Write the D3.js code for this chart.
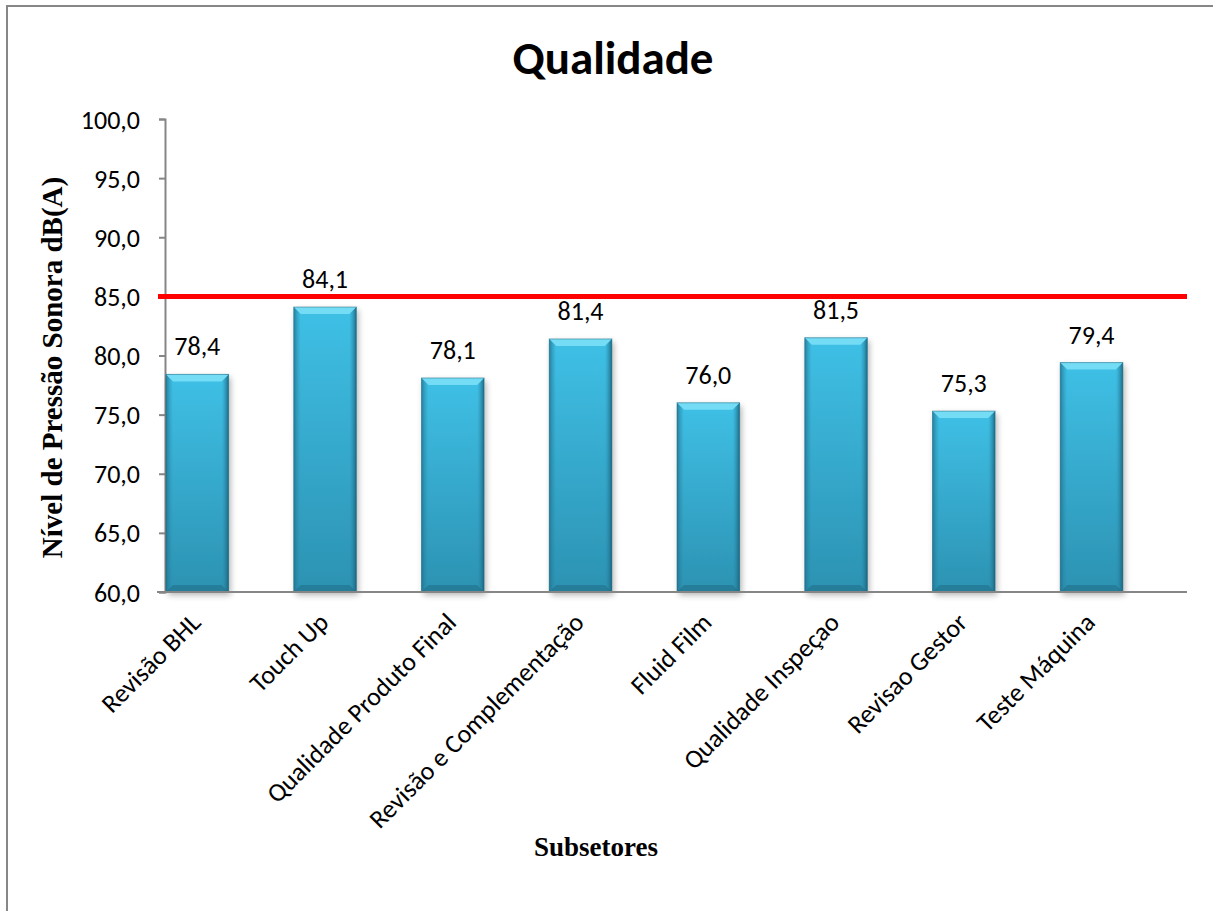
<!DOCTYPE html>
<html><head><meta charset="utf-8">
<script src="https://cdn.jsdelivr.net/npm/d3@7"></script>
<style>html,body{margin:0;padding:0;background:#fff;overflow:hidden}</style>
</head><body>
<svg id="chart" width="1213" height="911"></svg>
<script>
const categories = ["Revisão BHL","Touch Up","Qualidade Produto Final","Revisão e Complementação","Fluid Film","Qualidade Inspeçao","Revisao Gestor","Teste Máquina"];
const values = [78.4, 84.1, 78.1, 81.4, 76.0, 81.5, 75.3, 79.4];
const limitValue = [85];
const yTicks = [60,65,70,75,80,85,90,95,100];
const title = "Qualidade";
const yTitle = "Nível de Pressão Sonora dB(A)";
const xTitle = "Subsetores";

const svg = d3.select("#chart");
const W = 1213, H = 911;
const m = {left:165, right:1187, top:119, bottom:592};
const sans = "Carlito, Lato, 'Open Sans', sans-serif";
const serif = "'Liberation Serif', 'Times New Roman', serif";
const fmt = v => d3.format(".1f")(v).replace(".", ",");

svg.append("rect").attr("x",7).attr("y",6).attr("width",W+20).attr("height",H+20)
  .attr("fill","#fff").attr("stroke","#878787").attr("stroke-width",2);

const defs = svg.append("defs");
const g1 = defs.append("linearGradient").attr("id","barFill").attr("x1",0).attr("y1",0).attr("x2",0).attr("y2",1);
g1.append("stop").attr("offset","0%").attr("stop-color","#3fc0e6");
g1.append("stop").attr("offset","100%").attr("stop-color","#2c92b2");
const g2 = defs.append("linearGradient").attr("id","sideL").attr("x1",0).attr("y1",0).attr("x2",1).attr("y2",0);
g2.append("stop").attr("offset","0%").attr("stop-color","#1f6f8a").attr("stop-opacity",0.8);
g2.append("stop").attr("offset","100%").attr("stop-color","#2a8fb0").attr("stop-opacity",0);
const g3 = defs.append("linearGradient").attr("id","sideR").attr("x1",1).attr("y1",0).attr("x2",0).attr("y2",0);
g3.append("stop").attr("offset","0%").attr("stop-color","#1a5f78").attr("stop-opacity",0.9);
g3.append("stop").attr("offset","100%").attr("stop-color","#2a8fb0").attr("stop-opacity",0);
const f = defs.append("filter").attr("id","shadow").attr("x","-20%").attr("y","-5%").attr("width","140%").attr("height","115%");
f.append("feGaussianBlur").attr("in","SourceAlpha").attr("stdDeviation",3);
f.append("feOffset").attr("dx",2).attr("dy",3).attr("result","b");
f.append("feComponentTransfer").append("feFuncA").attr("type","linear").attr("slope",0.3);
const fm = f.append("feMerge"); fm.append("feMergeNode"); fm.append("feMergeNode").attr("in","SourceGraphic");

const x = d3.scaleBand().domain(categories).range([m.left, m.right]);
const y = d3.scaleLinear().domain([60,100]).range([m.bottom, m.top]);
const barW = x.bandwidth()*0.49;
const off = 1;

// Title
svg.append("text").attr("x",613).attr("y",74).attr("text-anchor","middle")
  .attr("font-family",sans).attr("font-weight","bold").attr("font-size",47).attr("fill","#000").text(title);

// y axis
const yAxis = svg.append("g").attr("transform",`translate(${m.left},0)`)
  .call(d3.axisLeft(y).tickValues(yTicks).tickSize(6).tickFormat(fmt));
yAxis.select(".domain").attr("stroke","#868686").attr("stroke-width",2);
yAxis.selectAll(".tick line").attr("stroke","#868686").attr("stroke-width",2);
yAxis.selectAll(".tick text").attr("font-family",sans).attr("font-size",26).attr("fill","#000").attr("x",-25).attr("dy","0.35em");

// bars
const bars = svg.append("g").selectAll("g").data(values).join("g")
  .attr("transform",(d,i)=>`translate(${x(categories[i])+off},0)`);
bars.each(function(d){
  const gg = d3.select(this);
  const top = y(d), bot = y(60), h = bot-top, bev = 7;
  gg.append("rect").attr("x",0).attr("y",top).attr("width",barW).attr("height",h)
    .attr("fill","url(#barFill)").attr("filter","url(#shadow)");
  gg.append("rect").attr("x",0).attr("y",top).attr("width",bev).attr("height",h).attr("fill","url(#sideL)");
  gg.append("rect").attr("x",barW-bev).attr("y",top).attr("width",bev).attr("height",h).attr("fill","url(#sideR)");
  gg.append("path").attr("d",`M0,${top}H${barW}L${barW-bev},${top+bev}H${bev}Z`).attr("fill","#74dcf4");
  gg.append("path").attr("d",`M0,${bot}H${barW}L${barW-bev},${bot-bev}H${bev}Z`).attr("fill","#216f89").attr("opacity",0.6);
  gg.append("rect").attr("x",0).attr("y",top).attr("width",barW).attr("height",h)
    .attr("fill","none").attr("stroke","#1f6a82").attr("stroke-width",1).attr("opacity",0.5);
});

// data labels
svg.append("g").selectAll("text").data(values).join("text")
  .attr("x",(d,i)=>x(categories[i])+off+barW/2).attr("y",d=>y(d)-19)
  .attr("text-anchor","middle").attr("font-family",sans).attr("font-size",26).attr("fill","#000")
  .text(fmt);

// x axis
const xAxis = svg.append("g").attr("transform",`translate(0,${m.bottom})`)
  .call(d3.axisBottom(x).tickSize(0).tickFormat(""));
xAxis.select(".domain").attr("stroke","#868686").attr("stroke-width",2).attr("d",`M${m.left-8},0H${m.right}`);

// category labels
svg.append("g").selectAll("text").data(categories).join("text")
  .attr("transform",(d)=>`translate(${x(d)+off+barW/2+5},${m.bottom+32}) rotate(-45)`)
  .attr("text-anchor","end").attr("font-family",sans).attr("font-size",26).attr("fill","#000")
  .text(d=>d);

// limit line
svg.append("g").selectAll("line").data(limitValue).join("line")
  .attr("x1",m.left-7).attr("x2",m.right).attr("y1",d=>y(d)).attr("y2",d=>y(d))
  .attr("stroke","#ff0000").attr("stroke-width",5);

// axis titles
svg.append("text").attr("transform",`translate(62,${(m.top+m.bottom)/2+12}) rotate(-90)`)
  .attr("text-anchor","middle").attr("font-family",serif).attr("font-weight","bold").attr("font-size",29).attr("fill","#000").text(yTitle);
svg.append("text").attr("x",596).attr("y",856).attr("text-anchor","middle")
  .attr("font-family",serif).attr("font-weight","bold").attr("font-size",27).attr("fill","#000").text(xTitle);
</script>
</body></html>
